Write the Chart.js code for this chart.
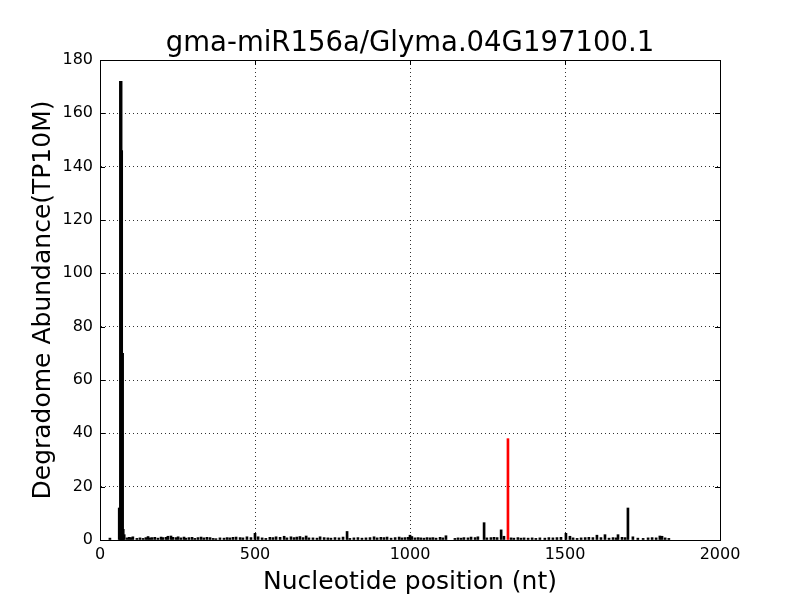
<!DOCTYPE html>
<html>
<head>
<meta charset="utf-8">
<script src="https://cdn.jsdelivr.net/npm/chart.js@4.4.0/dist/chart.umd.min.js"></script>
<style>
  body { margin: 0; background: #fff; }
</style>
</head>
<body>
<canvas id="myChart" width="800" height="600"></canvas>
<script>
// degradome reads per nucleotide position (TP10M)
const positions = [
  32, 62, 66, 67, 68, 70, 73, 75, 78,
  87, 94, 100, 106, 119, 129, 139, 148, 155, 161, 168, 177, 187, 197, 203, 213, 219, 229, 235, 245,
  252, 261, 271, 277, 287, 297, 306, 316, 326, 335, 345,
  355, 365, 374, 387, 400, 410, 419, 429, 439, 452, 461, 474, 487, 500, 510, 523, 535, 548, 558,
  568, 581, 594, 603, 616, 626, 635, 645, 655, 665, 674,
  687, 700, 710, 723, 735, 745, 758, 771, 784, 797, 806, 819, 832, 845, 858, 871, 884, 894, 906,
  916, 926, 939, 952, 965, 974, 984, 994, 1000, 1006, 1016, 1026,
  1035, 1045, 1055, 1065, 1074, 1084, 1097, 1106, 1116, 1145, 1155, 1165, 1174, 1187, 1197, 1210,
  1219, 1239, 1248, 1261, 1271, 1281, 1294, 1303, 1326, 1335, 1348, 1358, 1368,
  1381, 1394, 1406, 1419, 1435, 1448, 1461, 1474, 1487, 1503, 1516, 1526, 1539, 1552, 1565, 1577,
  1590, 1603, 1616, 1629, 1642, 1655, 1665, 1671, 1684, 1694, 1703, 1719, 1735, 1752, 1768, 1781,
  1794, 1806, 1813, 1823, 1835
];
const abundance = [
  0.7, 12, 172, 172, 172, 146, 70, 4, 2,
  0.8, 1, 0.9, 1.2, 0.6, 0.8, 0.6, 0.9, 1.3, 0.8, 0.9, 1, 0.7, 1.1, 0.9, 1, 1.4, 1.5, 1, 0.9,
  1.2, 0.8, 1.1, 0.7, 0.9, 1, 0.6, 0.9, 1.1, 0.8, 1,
  0.9, 0.6, 0.5, 0.8, 0.7, 0.9, 0.8, 1, 1.1, 0.9, 0.8, 1.2, 0.9, 2.5, 1.2, 0.8, 0.6, 1, 0.9,
  1.2, 1, 1.4, 0.8, 1.2, 0.9, 1.1, 1.3, 0.9, 1.5, 0.8,
  0.8, 0.7, 1.2, 0.9, 0.8, 0.7, 0.9, 0.8, 1.1, 3.2, 0.6, 0.8, 0.9, 0.7, 0.8, 0.9, 1.2, 0.8, 1,
  0.9, 1.1, 0.7, 0.9, 1.1, 0.8, 0.9, 1, 1.8, 1.3, 0.8, 0.9,
  0.8, 0.7, 0.9, 0.8, 0.9, 0.7, 1, 0.8, 1.6, 0.6, 0.8, 0.7, 0.9, 0.8, 1.1, 0.9,
  1.2, 6.5, 0.8, 0.9, 1, 0.9, 3.8, 1.4, 0.8, 0.7, 0.9, 0.7, 0.8,
  0.7, 0.8, 0.6, 0.8, 0.7, 0.9, 0.8, 0.9, 1, 2.5, 1.4, 0.8, 0.6, 0.8, 0.9, 1,
  0.9, 1.8, 0.9, 2, 0.7, 0.9, 0.8, 2, 1, 0.9, 12, 1.2, 0.7, 0.6, 0.8, 0.9,
  0.8, 1.5, 1.4, 0.8, 0.6
];
// miRNA cleavage site
const cleavePos = [1316];
const cleaveAbund = [38];

const titleText = 'gma-miR156a/Glyma.04G197100.1';
const fam = "'DejaVu Sans', sans-serif";

// frame, inward ticks and a title centred over the plot area (matplotlib style)
const frame = {
  id: 'frame',
  afterDatasetsDraw(chart) {
    const {ctx, chartArea: a, scales} = chart;
    ctx.save();
    ctx.strokeStyle = '#000';
    ctx.lineWidth = 1;
    ctx.setLineDash([]);
    ctx.beginPath();
    scales.y.ticks.forEach(t => {
      const y = Math.round(scales.y.getPixelForValue(t.value)) + 0.5;
      ctx.moveTo(a.left, y); ctx.lineTo(a.left + 5, y);
      ctx.moveTo(a.right, y); ctx.lineTo(a.right - 5, y);
    });
    scales.x.ticks.forEach(t => {
      const x = Math.round(scales.x.getPixelForValue(t.value)) + 0.5;
      ctx.moveTo(x, a.bottom); ctx.lineTo(x, a.bottom - 5);
      ctx.moveTo(x, a.top); ctx.lineTo(x, a.top + 5);
    });
    ctx.stroke();
    ctx.strokeRect(Math.round(a.left) + 0.5, Math.round(a.top) + 0.5,
      Math.round(a.right - a.left), Math.round(a.bottom - a.top));

    ctx.fillStyle = '#000';
    ctx.font = '27.5px ' + fam;
    ctx.textAlign = 'center';
    ctx.textBaseline = 'alphabetic';
    ctx.fillText(titleText, (a.left + a.right) / 2, 51);
    ctx.restore();
  }
};

new Chart(document.getElementById('myChart'), {
  type: 'bar',
  data: {
    datasets: [{
      data: positions.map((p, i) => ({x: p, y: abundance[i]})),
      backgroundColor: '#000',
      barThickness: 2
    }, {
      data: cleavePos.map((p, i) => ({x: p, y: cleaveAbund[i]})),
      backgroundColor: '#ff0000',
      barThickness: 2
    }]
  },
  options: {
    responsive: false,
    animation: false,
    grouped: false,
    layout: { padding: { top: 60, right: 80, left: 0, bottom: 0 } },
    plugins: {
      legend: { display: false },
      tooltip: { enabled: false },
      title: { display: false }
    },
    scales: {
      x: {
        type: 'linear',
        min: 0, max: 2000,
        offset: false,
        afterFit: s => { s.height = 60; },
        ticks: {
          stepSize: 500, autoSkip: false, maxRotation: 0,
          color: '#000', font: { family: fam, size: 16 }, padding: 5,
          callback: v => String(v)
        },
        grid: { color: '#333', lineWidth: 1, drawTicks: false, offset: false },
        border: { display: true, color: '#000', dash: [1, 3] },
        title: {
          display: true,
          text: 'Nucleotide position (nt)',
          color: '#000',
          font: { family: fam, size: 25 },
          padding: { top: 0, bottom: 3 }
        }
      },
      y: {
        min: 0, max: 180,
        afterFit: s => { s.width = 100; },
        ticks: {
          stepSize: 20, autoSkip: false,
          color: '#000', font: { family: fam, size: 16 }, padding: 7,
          callback: v => String(v)
        },
        grid: { color: '#333', lineWidth: 1, drawTicks: false },
        border: { display: true, color: '#000', dash: [1, 3] },
        title: {
          display: true,
          text: 'Degradome Abundance(TP10M)',
          color: '#000',
          font: { family: fam, size: 25 },
          padding: { top: 28.5, bottom: 0 }
        }
      }
    }
  },
  plugins: [frame]
});
</script>
</body>
</html>
